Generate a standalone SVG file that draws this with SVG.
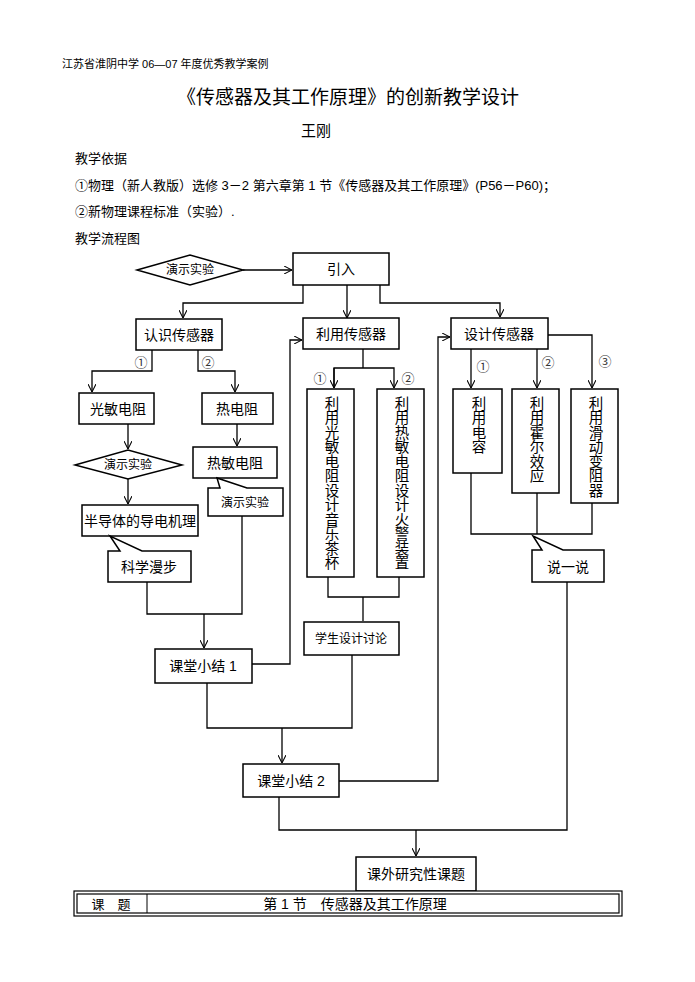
<svg xmlns="http://www.w3.org/2000/svg" width="695" height="982" viewBox="0 0 695 982">
<defs>
<marker id="ah" viewBox="0 0 10 10" refX="10" refY="5" markerWidth="8" markerHeight="8" orient="auto" markerUnits="userSpaceOnUse"><path d="M0,0 L10,5 L0,10" fill="none" stroke="#000" stroke-width="1.3"/></marker>
<style>
text{font-family:"Liberation Sans","Noto Sans CJK SC",sans-serif;fill:#000}
.n{fill:#fff;stroke:#000;stroke-width:1.5}
.l{fill:none;stroke:#000;stroke-width:1.3}
.t{font-size:14px;text-anchor:middle}
.s{font-size:12px;text-anchor:middle}
.v{font-size:14.5px;writing-mode:tb;glyph-orientation-vertical:0;letter-spacing:0}
.c{font-size:13px;text-anchor:middle;fill:#333}
</style>
</defs>
<rect width="695" height="982" fill="#fff"/>
<text x="62" y="68" font-size="11">江苏省淮阴中学 06—07 年度优秀教学案例</text>
<text x="348" y="104" font-size="19" text-anchor="middle">《传感器及其工作原理》的创新教学设计</text>
<text x="316" y="136" font-size="15" text-anchor="middle">王刚</text>
<text x="75" y="163" font-size="13">教学依据</text>
<text x="75" y="190" font-size="13">①物理（新人教版）选修 3－2 第六章第 1 节《传感器及其工作原理》(P56－P60)；</text>
<text x="75" y="216" font-size="13">②新物理课程标准（实验）.</text>
<text x="75" y="243" font-size="13">教学流程图</text>

<g id="connectors">
<path class="l" d="M243,270 H292" marker-end="url(#ah)"/>
<path class="l" d="M303,285 V303 H183 V318" marker-end="url(#ah)"/>
<path class="l" d="M347,285 V318" marker-end="url(#ah)"/>
<path class="l" d="M380,285 V303 H500 V317" marker-end="url(#ah)"/>
<path class="l" d="M152,350 V371 H92 V392" marker-end="url(#ah)"/>
<path class="l" d="M198,350 V371 H235 V392" marker-end="url(#ah)"/>
<path class="l" d="M128,424 V449" marker-end="url(#ah)"/>
<path class="l" d="M128,479 V504" marker-end="url(#ah)"/>
<path class="l" d="M237,424 V446" marker-end="url(#ah)"/>
<path class="l" d="M147,582 V614 H242 V516"/>
<path class="l" d="M204,614 V648" marker-end="url(#ah)"/>
<path class="l" d="M252,664 H290 V340 H302" marker-end="url(#ah)"/>
<path class="l" d="M363,349 V368"/>
<path class="l" d="M334,388 V368 H394 V388" marker-end="url(#ah)"/>
<path class="l" d="M334,368 V388" marker-end="url(#ah)"/>
<path class="l" d="M328,577 V597 H399 V577"/>
<path class="l" d="M363,597 V621"/>
<path class="l" d="M352,655 V728 H207 V683"/>
<path class="l" d="M282,728 V763" marker-end="url(#ah)"/>
<path class="l" d="M339,781 H438 V337 H450" marker-end="url(#ah)"/>
<path class="l" d="M471,349 V388" marker-end="url(#ah)"/>
<path class="l" d="M537,349 V388" marker-end="url(#ah)"/>
<path class="l" d="M548,335 H592 V388" marker-end="url(#ah)"/>
<path class="l" d="M471,473 V534 H592 V503"/>
<path class="l" d="M537,493 V534"/>
<path class="l" d="M567,582 V830 H279 V797"/>
<path class="l" d="M416,830 V856" marker-end="url(#ah)"/>
</g>

<g id="demo1"><polygon class="n" points="137,270 190,255 243,270 190,285"/><text class="s" x="190" y="274">演示实验</text></g>
<g id="intro"><rect class="n" x="293" y="253" width="96" height="32"/><text class="t" x="341" y="274" font-size="15">引入</text></g>
<g id="know"><rect class="n" x="136" y="319" width="86" height="31"/><text class="t" x="179" y="340">认识传感器</text></g>
<g id="use"><rect class="n" x="303" y="318" width="96" height="31"/><text class="t" x="351" y="339">利用传感器</text></g>
<g id="design"><rect class="n" x="451" y="318" width="97" height="31"/><text class="t" x="499" y="339">设计传感器</text></g>
<text class="c" x="141" y="367">①</text><text class="c" x="208" y="367">②</text>
<text class="c" x="320" y="383">①</text><text class="c" x="408" y="383">②</text>
<text class="c" x="483" y="371">①</text><text class="c" x="548" y="367">②</text><text class="c" x="605" y="366">③</text>
<g id="photo"><rect class="n" x="79" y="393" width="75" height="31"/><text class="t" x="118" y="414">光敏电阻</text></g>
<g id="thermo"><rect class="n" x="202" y="393" width="71" height="31"/><text class="t" x="237" y="414">热电阻</text></g>
<g id="demo2"><polygon class="n" points="75,465 128,450 182,465 128,479"/><text class="s" x="128" y="469">演示实验</text></g>
<g id="thermistor"><rect class="n" x="193" y="447" width="84" height="31"/><text class="t" x="235" y="468">热敏电阻</text></g>
<g id="demo3"><path class="n" d="M208,488 H220 L217,478 L247,488 H283 V516 H208 Z"/><text class="s" x="245" y="507">演示实验</text></g>
<g id="semi"><rect class="n" x="82" y="505" width="116" height="31"/><text class="t" x="140" y="526">半导体的导电机理</text></g>
<g id="walk"><path class="n" d="M108,551 H120 L110,536 L142,551 H191 V582 H108 Z"/><text class="t" x="149" y="572">科学漫步</text></g>
<g id="tall1"><rect class="n" x="307" y="389" width="47" height="188"/><text class="v" x="330.5" y="396">利用光敏电阻设计音乐茶杯</text></g>
<g id="tall2"><rect class="n" x="377" y="389" width="47" height="188"/><text class="v" x="400.5" y="396">利用热敏电阻设计火警装置</text></g>
<g id="cap"><rect class="n" x="453" y="389" width="49" height="84"/><text class="v" x="477.5" y="396">利用电容</text></g>
<g id="hall"><rect class="n" x="512" y="389" width="47" height="104"/><text class="v" x="535.5" y="396">利用霍尔效应</text></g>
<g id="rheo"><rect class="n" x="571" y="389" width="47" height="114"/><text class="v" x="594.5" y="396">利用滑动变阻器</text></g>
<g id="talk"><path class="n" d="M532,550 H542 L533,536 L563,550 H604 V582 H532 Z"/><text class="t" x="568" y="572">说一说</text></g>
<g id="sum1"><rect class="n" x="155" y="649" width="97" height="34"/><text class="t" x="203" y="671">课堂小结 1</text></g>
<g id="discuss"><rect class="n" x="304" y="622" width="95" height="33"/><text class="s" x="351" y="643" font-size="13">学生设计讨论</text></g>
<g id="sum2"><rect class="n" x="243" y="764" width="96" height="33"/><text class="t" x="291" y="786">课堂小结 2</text></g>
<g id="extra"><rect class="n" x="356" y="857" width="120" height="34"/><text class="t" x="416" y="879">课外研究性课题</text></g>
<g id="table">
<rect x="74" y="891" width="548" height="25" fill="#fff" stroke="#000" stroke-width="1.2"/>
<rect x="77" y="894" width="542" height="19" fill="none" stroke="#000" stroke-width="1.2"/>
<line x1="147" y1="894" x2="147" y2="913" stroke="#000" stroke-width="1"/>
<text x="111" y="909" font-size="13" text-anchor="middle">课　题</text>
<text x="355" y="909" font-size="14" text-anchor="middle">第 1 节　传感器及其工作原理</text>
</g>
</svg>
